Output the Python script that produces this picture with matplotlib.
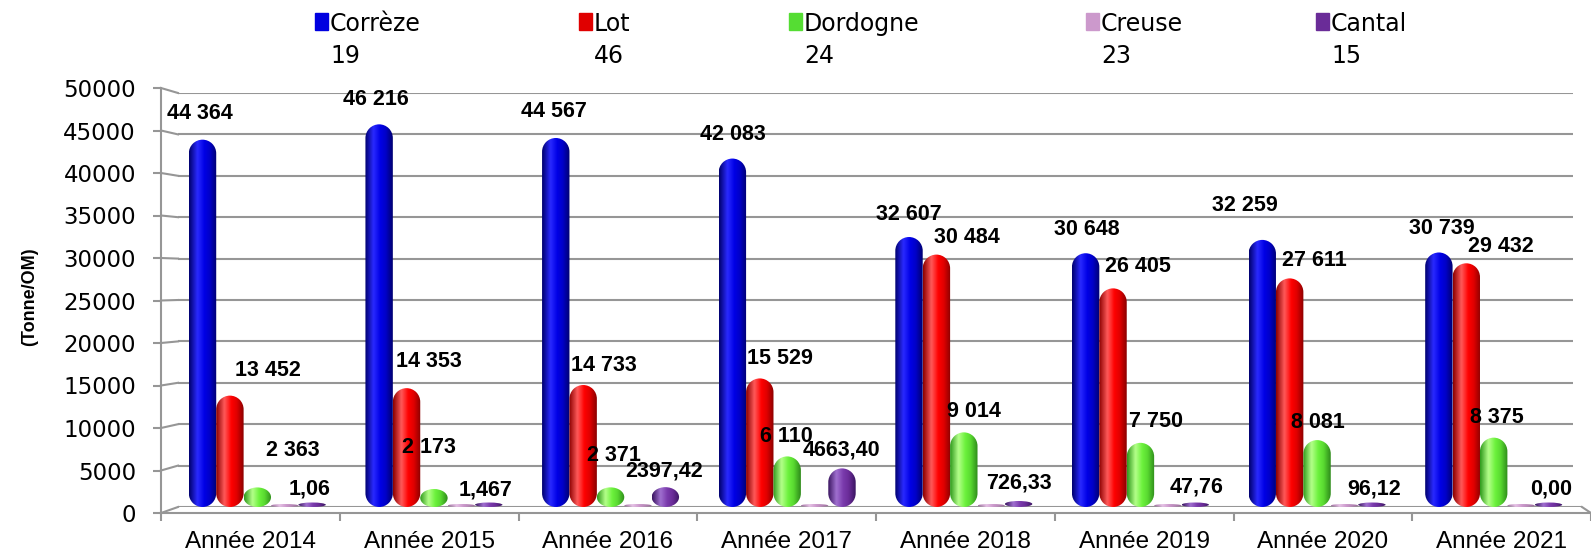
import numpy as np
import matplotlib
matplotlib.use("Agg")
import matplotlib.pyplot as plt
from matplotlib.path import Path
from matplotlib.patches import PathPatch, Rectangle
from matplotlib.colors import LinearSegmentedColormap
from matplotlib.lines import Line2D

# Tonnage OM par département, 2014-2021

years = ["Année 2014", "Année 2015", "Année 2016", "Année 2017",
         "Année 2018", "Année 2019", "Année 2020", "Année 2021"]
departements = ["Corrèze", "Lot", "Dordogne", "Creuse", "Cantal"]
numeros = ["19", "46", "24", "23", "15"]

correze = [44364, 46216, 44567, 42083, 32607, 30648, 32259, 30739]
lot = [13452, 14353, 14733, 15529, 30484, 26405, 27611, 29432]
dordogne = [2363, 2173, 2371, 6110, 9014, 7750, 8081, 8375]
creuse = [0, 0, 0, 0, 0, 0, 0, 0]
cantal = [1.06, 1.467, 2397.42, 4663.40, 726.33, 47.76, 96.12, 0.00]
cantal_labels = ["1,06", "1,467", "2397,42", "4663,40", "726,33", "47,76", "96,12", "0,00"]

# label nudges in pixels (dx, dy above value)
nudge_correze = [(-3, 26), (-3, 25), (-2, 26), (0, 24), (0, 23), (1, 24), (-17, 34), (3, 24)]
nudge_lot = [(38, 25), (22, 27), (21, 20), (20, 20), (30, 17), (25, 22), (25, 18), (35, 17)]
nudge_dordogne = [(35, 37), (-5, 42), (3, 32), (-1, 20), (10, 21), (16, 21), (1, 18), (3, 20)]
nudge_cantal = [(-3, 18), (-3, 17), (-1, 16), (-1, 18), (0, 18), (1, 20), (2, 17), (3, 18)]

W, H = 1591, 557
GRAY = "#969696"

# shading: dark edge -> highlight -> base -> dark edge
shades = [
    ["#00006e", "#2a2aff", "#0000e6", "#0000c8", "#000070"],
    ["#8c0000", "#ff5a5a", "#ff0000", "#e00000", "#8a0000"],
    ["#2f9a1c", "#b4ff8a", "#6cf23c", "#58d830", "#2e8a1a"],
    ["#a070a0", "#e6c2e6", "#cc99cc", "#b888b8", "#9a6a9a"],
    ["#3a1560", "#a070d0", "#7a3aac", "#6a2c98", "#3a1560"],
]
legend_colors = ["#0000e0", "#e00000", "#55dd33", "#cc99cc", "#6a2c98"]


def fx(px):
    return px / W


def fy(py):
    return 1 - py / H


fig = plt.figure(figsize=(W / 100, H / 100), dpi=100)

# back plane (bars, gridlines)
ax = fig.add_axes([fx(169), fy(507), (1582 - 169) / W, (507 - 93) / H])
ax.set_xlim(-0.5, 7.5)
ax.set_ylim(0, 50000)
ax.axis("off")

# front plane (axes, tick labels)
fa = fig.add_axes([fx(161), fy(513), (W - 161) / W, (513 - 88) / H])
fa.patch.set_alpha(0)
fa.set_xlim(-0.5, 7.5)
fa.set_ylim(0, 50000)
yt = np.arange(0, 50001, 5000)
fa.set_yticks(yt)
fa.set_yticklabels([str(v) for v in yt], fontsize=16.5, family="DejaVu Sans")
fa.set_xticks(range(len(years)))
fa.set_xticklabels(years, fontsize=17.5, family="Liberation Sans")
fa.set_xticks(np.arange(-0.5, len(years), 1), minor=True)
fa.tick_params(axis="x", which="major", length=0, pad=13)
fa.tick_params(axis="x", which="minor", length=6, width=1.5, color=GRAY, direction="out")
fa.tick_params(axis="y", length=6, width=1.5, color=GRAY, pad=12)
for side in ["top", "right"]:
    fa.spines[side].set_visible(False)
for side in ["left", "bottom"]:
    fa.spines[side].set_color(GRAY)
    fa.spines[side].set_linewidth(1.5)

# back gridlines
gx0 = (178 - 169) / (1582 - 169)
gx1 = (1573 - 169) / (1582 - 169)
ax.hlines(yt[1:], gx0, gx1, transform=ax.get_yaxis_transform(), colors=GRAY, lw=1.5, zorder=1)
ax.hlines([0], gx0, 1.0, transform=ax.get_yaxis_transform(), colors=GRAY, lw=1.5, zorder=1)

# slanted connectors front -> back
inv = fig.transFigure.inverted()
for v in yt:
    p0 = inv.transform(fa.transData.transform((-0.5, v)))
    p1 = inv.transform(ax.transAxes.transform((gx0, 0)))
    p1 = (p1[0], inv.transform(ax.transData.transform((0, v)))[1])
    fig.add_artist(Line2D([p0[0], p1[0]], [p0[1], p1[1]], color=GRAY, lw=1.5))
p0 = inv.transform(ax.transAxes.transform((1.0, 0)))
p1 = inv.transform(fa.transAxes.transform((1.0, 0)))
fig.add_artist(Line2D([p0[0], p1[0]], [p0[1], p1[1]], color=GRAY, lw=1.5))

fig.text(fx(30), fy(297), "(Tonne/OM)", rotation=90, fontsize=13, fontweight="bold",
         family="Liberation Sans", ha="center", va="center")

# pixel scale of the back plane
o = ax.transData.transform((0, 0))
u = ax.transData.transform((1, 1))
px_x = u[0] - o[0]
px_y = u[1] - o[1]


def capsule(x0, w, h, ry):
    rx = w / 2
    xc = x0 + rx
    ry = min(ry, h / 2)
    arc = Path.arc(0, 180)
    arc2 = Path.arc(180, 360)
    top = arc.vertices * [rx, ry] + [xc, h - ry]
    bot = arc2.vertices * [rx, ry] + [xc, ry]
    verts = np.vstack([top, bot, top[:1]])
    codes = list(arc.codes) + [Path.LINETO] + list(arc2.codes[1:]) + [Path.CLOSEPOLY]
    return Path(verts, codes)


series = [correze, lot, dordogne, creuse, cantal]
bw = 27.4 / px_x
x = np.arange(len(years))
grad = np.linspace(0, 1, 64)[np.newaxis, :]
min_h = {3: 3.0, 4: 4.5}

for s, vals in enumerate(series):
    cmap = LinearSegmentedColormap.from_list(
        "c%d" % s, list(zip([0, 0.3, 0.55, 0.75, 1.0], shades[s])))
    bars = ax.bar(x + (s - 2) * bw, vals, width=bw, color="none", edgecolor="none")
    for rect in bars:
        x0, w, h = rect.get_x(), rect.get_width(), rect.get_height()
        hv = max(h, min_h.get(s, 3.0) / px_y)
        ry = (w * px_x / 2) / px_y
        patch = PathPatch(capsule(x0, w, hv, ry), facecolor="none", edgecolor="none")
        ax.add_patch(patch)
        im = ax.imshow(grad, cmap=cmap, extent=(x0, x0 + w, 0, hv), aspect="auto",
                       origin="lower", interpolation="bicubic", zorder=2 + s * 0.01)
        im.set_clip_path(patch)

ax.set_xlim(-0.5, 7.5)
ax.set_ylim(0, 50000)


def fmt(v):
    return f"{v:,.0f}".replace(",", " ")


label_sets = [
    (0, [fmt(v) for v in correze], nudge_correze),
    (1, [fmt(v) for v in lot], nudge_lot),
    (2, [fmt(v) for v in dordogne], nudge_dordogne),
    (4, cantal_labels, nudge_cantal),
]
for s, labels, nudges in label_sets:
    for i, (lab, (dx, dy)) in enumerate(zip(labels, nudges)):
        ax.annotate(lab, xy=(x[i] + (s - 2) * bw, series[s][i]),
                    xytext=(dx * 0.72, dy * 0.72), textcoords="offset points",
                    ha="center", va="center", fontsize=15.5, fontweight="bold",
                    family="Liberation Sans", zorder=5)

# legend
leg_x = [330, 594, 804, 1101, 1331]
for name, num, lx, col in zip(departements, numeros, leg_x, legend_colors):
    fig.add_artist(Rectangle((fx(lx - 15), fy(30)), 13 / W, 17 / H,
                             transform=fig.transFigure, color=col))
    fig.text(fx(lx), fy(31), name, fontsize=17, family="DejaVu Sans", va="baseline")
    fig.text(fx(lx), fy(63), num, fontsize=17, family="DejaVu Sans", va="baseline")

fig.savefig("out.png", dpi=100)
